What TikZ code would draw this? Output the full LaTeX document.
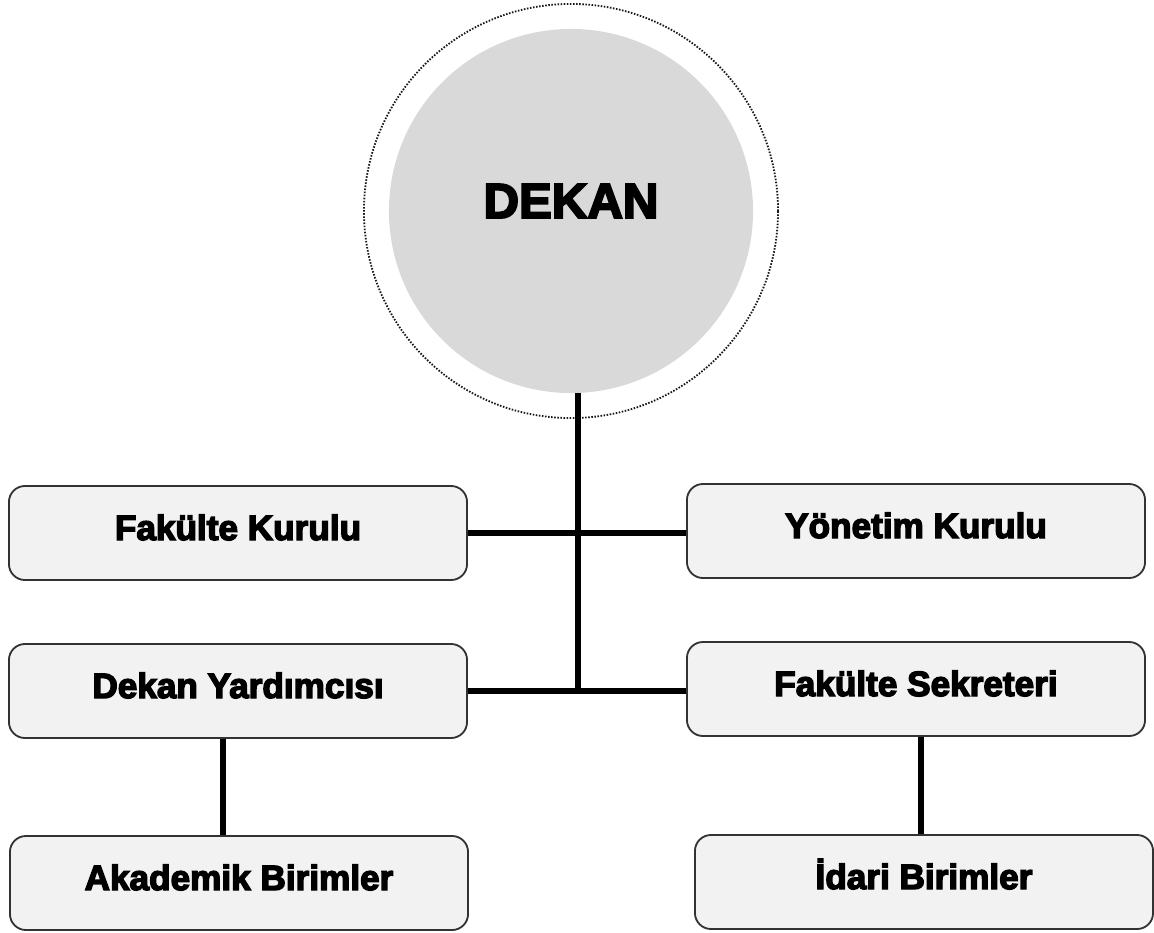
\documentclass[tikz,border=0pt]{standalone}
\usepackage{fontspec}
\setmainfont{Liberation Sans}[BoldFeatures={FakeBold=4}]
\definecolor{boxgray}{HTML}{F2F2F2}
\definecolor{headgray}{HTML}{D9D9D9}
\tikzset{
 unit/.style={draw=black!80,line width=1.3pt,fill=boxgray,rounded corners=0.4cm,
   minimum width=11.45cm,minimum height=2.35cm,text height=0.55cm,text depth=0.2cm,
   font=\fontsize{25pt}{28pt}\selectfont\bfseries},
 link/.style={line width=4.3pt}
}
\begin{document}
\begin{tikzpicture}[x=0.025cm,y=-0.025cm]
\useasboundingbox (0,0) rectangle (1154,932);
\node[circle,fill=headgray,minimum size=9.1cm,text height=0.9cm,text depth=0.55cm,
  font=\fontsize{35pt}{40pt}\selectfont\bfseries] (dekan) at (571,211) {DEKAN};
\node[circle,draw=black!90,dash pattern=on 1.1pt off 1.1pt,line width=1.3pt,minimum size=10.35cm] (ring) at (571,211) {};
\node[unit] (fk) at (238,533) {Fakülte Kurulu};
\node[unit] (yk) at (916,531) {Yönetim Kurulu};
\node[unit] (dy) at (238,691) {Dekan Yardımcısı};
\node[unit] (fs) at (916,689) {Fakülte Sekreteri};
\node[unit] (ab) at (239,883) {Akademik Birimler};
\node[unit] (ib) at (924,882) {İdari Birimler};
\coordinate (hub) at (578,692);
\coordinate (leftfoot) at (223,0);
\coordinate (rightfoot) at (921,0);
\draw[link] (dekan.south -| hub) -- (hub);
\draw[link] (fk.east) -- (fk.east -| yk.west);
\draw[link] (dy.east) -- (dy.east -| fs.west);
\draw[link] (dy.south -| leftfoot) -- (ab.north -| leftfoot);
\draw[link] (fs.south -| rightfoot) -- (ib.north -| rightfoot);
\end{tikzpicture}
\end{document}
